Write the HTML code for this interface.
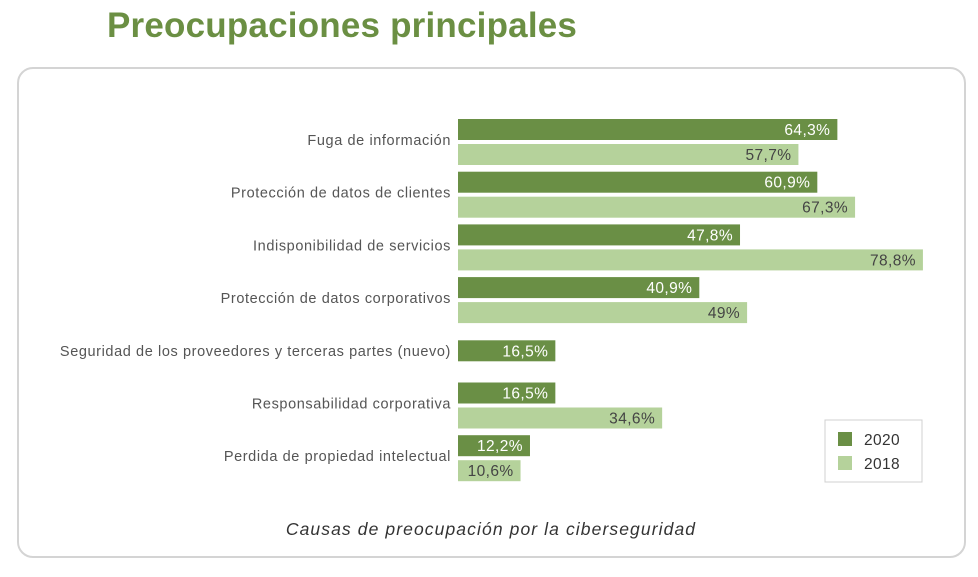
<!DOCTYPE html>
<html><head><meta charset="utf-8">
<style>
body{margin:0;width:978px;height:577px;background:#fff;font-family:"Liberation Sans",sans-serif;overflow:hidden;position:relative}
#title{position:absolute;left:107px;top:6px;font-size:35px;font-weight:bold;color:#6b8f43;letter-spacing:0.2px}
#panel{position:absolute;left:17px;top:67px;width:949px;height:491px;border:2px solid #d4d4d4;border-radius:16px;box-sizing:border-box}
svg{position:absolute;left:0;top:0}
</style></head><body>
<div id="title">Preocupaciones principales</div>
<div id="panel"></div>
<svg id="chart" width="978" height="577"></svg>
<script>
const categories=["Fuga de información","Protección de datos de clientes","Indisponibilidad de servicios","Protección de datos corporativos","Seguridad de los proveedores y terceras partes (nuevo)","Responsabilidad corporativa","Perdida de propiedad intelectual"];
const values2020=[64.3,60.9,47.8,40.9,16.5,16.5,12.2];
const values2018=[57.7,67.3,78.8,49,null,34.6,10.6];
const seriesNames=["2020","2018"];
const NS="http://www.w3.org/2000/svg";
const svg=document.getElementById('chart');
const x0=458,scale=5.9,top0=140,step=52.7,bh=21;
const xs=v=>x0+v*scale;
const yc=i=>top0+i*step;
function mk(t,a){const e=document.createElementNS(NS,t);for(const k in a)e.setAttribute(k,a[k]);svg.appendChild(e);return e;}
const fmt=v=>String(v).replace('.',',')+'%';
categories.forEach((c,i)=>{
  const cy=yc(i);
  const lab=mk('text',{x:451,y:cy+5,'text-anchor':'end','font-size':14.5,fill:'#555','letter-spacing':0.6});
  lab.textContent=c;
  
  
  const single=values2018[i]==null;
  const y1=single?cy-bh/2:cy-bh;
  const r1=mk('rect',{x:x0,y:y1,width:xs(values2020[i])-x0,height:bh,fill:'#6a8f45'});
  
  
  const t1=mk('text',{x:xs(values2020[i])-7,y:y1+16,'text-anchor':'end','font-size':15.5,fill:'#fff','letter-spacing':0.4});
  t1.textContent=fmt(values2020[i]);
  
  
  if(!single){
    const y2=cy+4;
    const r2=mk('rect',{x:x0,y:y2,width:xs(values2018[i])-x0,height:bh,fill:'#b5d29b'});
    
    
    const t2=mk('text',{x:xs(values2018[i])-7,y:y2+16,'text-anchor':'end','font-size':15.5,fill:'#444','letter-spacing':0.4});
    t2.textContent=fmt(values2018[i]);
    
    
  }
});
const lg=mk('rect',{x:825,y:420,width:97,height:62,fill:'#fff',stroke:'#d0d0d0'});


const colors=['#6a8f45','#b5d29b'];
seriesNames.forEach((s,i)=>{
  const sw=mk('rect',{x:838,y:432+i*24,width:14,height:14,fill:colors[i]});
  
  
  const t=mk('text',{x:864,y:445+i*24,'font-size':15.5,fill:'#333','letter-spacing':0.4});
  t.textContent=s;
  
  
});
const cap=mk('text',{x:491,y:535,'text-anchor':'middle','font-size':17.5,'font-style':'italic',fill:'#333','letter-spacing':1.1});
cap.textContent="Causas de preocupación por la ciberseguridad";


</script>
</body></html>
